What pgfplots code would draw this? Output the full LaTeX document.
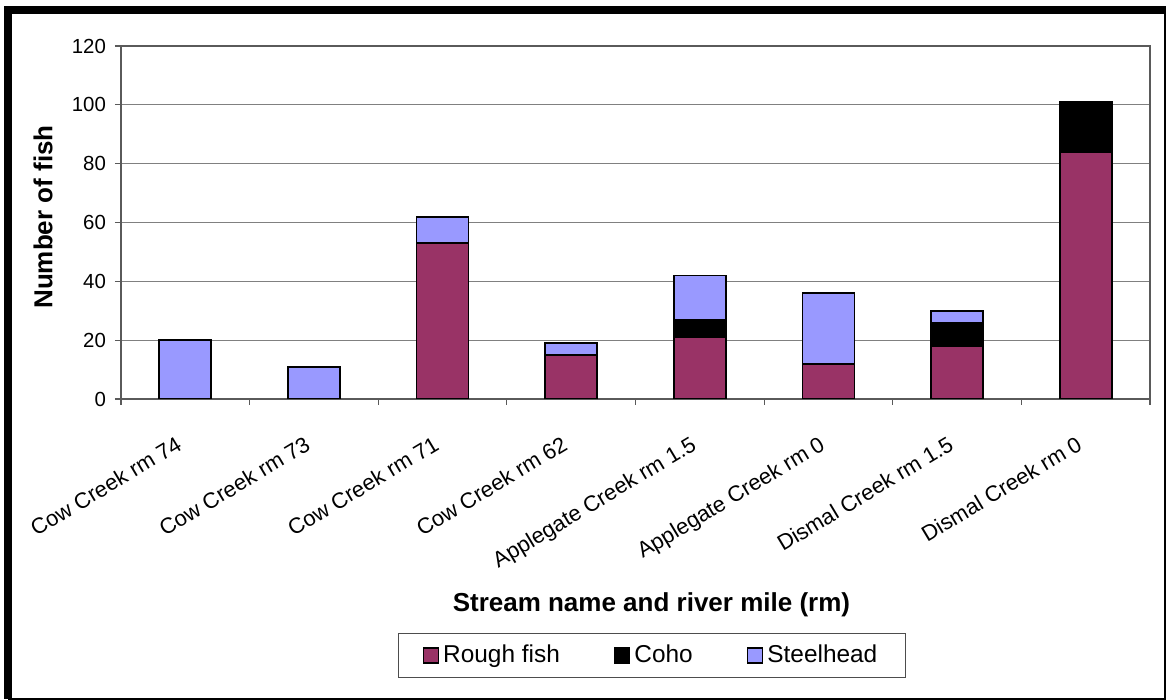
\documentclass[border=0pt]{standalone}
\usepackage{fontspec}
\setmainfont{Liberation Sans}
\usepackage{pgfplots}
\pgfplotsset{compat=1.18}

\definecolor{rough}{HTML}{993366}
\definecolor{steel}{HTML}{9999FF}
\definecolor{gridgray}{HTML}{808080}

\begin{document}
\begin{tikzpicture}
	\useasboundingbox (0,0) rectangle (583.5pt,350pt);
	% chart frame (thick left and top edges)
	\draw[line width=1pt] (582.5pt,344.75pt) -- (582.5pt,0.5pt) -- (4pt,0.5pt);
	\draw[line width=4pt] (4pt,0.5pt) -- (4pt,344.75pt) -- (583pt,344.75pt);

	\begin{axis}[
		at={(60.5pt,150.5pt)}, anchor=south west,
		scale only axis,
		width=514.5pt, height=176.5pt,
		ybar stacked,
		bar width=26pt,
		xmin=-0.5, xmax=7.5,
		ymin=0, ymax=120,
		ytick={0,20,...,120},
		xtick={0,...,7},
		xticklabels={Cow Creek rm 74, Cow Creek rm 73, Cow Creek rm 71, Cow Creek rm 62,
			Applegate Creek rm 1.5, Applegate Creek rm 0, Dismal Creek rm 1.5, Dismal Creek rm 0},
		minor xtick={-0.5,0.5,...,7.5},
		xtick pos=bottom, ytick pos=left,
		major x tick style={draw=none},
		tick align=outside,
		major tick length=3pt,
		minor tick length=3pt,
		tick style={gridgray!70!black, line width=0.6pt},
		ymajorgrids,
		grid style={gridgray, line width=0.5pt},
		axis line style={gridgray!70!black, line width=0.7pt},
		/pgf/number format/assume math mode=true,
		yticklabel style={font=\fontsize{10.2}{12}\selectfont, xshift=-1pt},
		xticklabel style={font=\fontsize{11}{13}\selectfont, rotate=31, anchor=north east,
			inner sep=0pt, xshift=-12pt, yshift=-10pt},
		xlabel={Stream name and river mile (rm)},
		ylabel={Number of fish},
		xlabel style={at={(axis description cs:0.5155,-0.5836)}, anchor=center,
			font=\fontsize{13}{15}\selectfont\bfseries},
		ylabel style={at={(axis description cs:-0.0758,0.5156)}, anchor=center, rotate=0,
			font=\fontsize{13}{15}\selectfont\bfseries},
		legend columns=3,
		legend style={at={(axis description cs:0.516,-0.7266)}, anchor=center,
			draw=gridgray!60!black, line width=0.6pt,
			font=\fontsize{12.2}{14}\selectfont,
			inner xsep=12pt, inner ysep=4pt,
			/tikz/every even column/.append style={column sep=25pt}},
		legend image code/.code={\draw[#1, line width=0.8pt] (0pt,-3.8pt) rectangle (7.5pt,3.8pt);},
		every axis plot/.append style={draw=black, line width=0.9pt},
	]
		% Rough fish
		\addplot[fill=rough] coordinates {(0,0) (1,0) (2,53) (3,15) (4,21) (5,12) (6,18) (7,84)};
		% Coho
		\addplot[fill=black] coordinates {(0,0) (1,0) (2,0) (3,0) (4,6) (5,0) (6,8) (7,17)};
		% Steelhead
		\addplot[fill=steel] coordinates {(0,20) (1,11) (2,9) (3,4) (4,15) (5,24) (6,4) (7,0)};
		\legend{Rough fish, Coho, Steelhead}
	\end{axis}
\end{tikzpicture}
\end{document}
